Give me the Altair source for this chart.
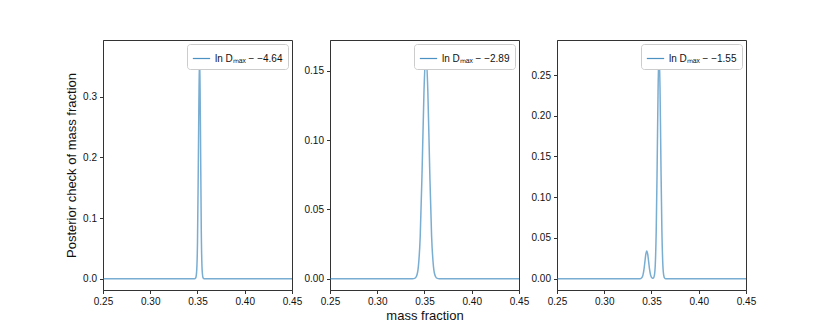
import altair as alt
import pandas as pd

# ---- data ----
x1 = [0.25, 0.347, 0.348, 0.349, 0.350, 0.351, 0.3522, 0.353, 0.354, 0.355, 0.356, 0.357, 0.45]
y1 = [0.0, 0.0, 0.001, 0.010, 0.060, 0.210, 0.375, 0.270, 0.080, 0.012, 0.001, 0.0, 0.0]

x2 = [0.25, 0.3375, 0.3395, 0.3415, 0.3435, 0.3455, 0.3475, 0.3495, 0.3515,
      0.3535, 0.3555, 0.3575, 0.3595, 0.3615, 0.3635, 0.3655, 0.45]
y2 = [0.0, 0.0, 0.0002, 0.0017, 0.0087, 0.031, 0.079, 0.136, 0.164,
      0.136, 0.079, 0.031, 0.0087, 0.0017, 0.0002, 0.0, 0.0]

x3 = [0.25, 0.338, 0.339, 0.340, 0.341, 0.342, 0.343, 0.344, 0.345, 0.346, 0.347,
      0.348, 0.349, 0.350, 0.351, 0.352, 0.353, 0.354, 0.355, 0.356, 0.357, 0.358,
      0.359, 0.360, 0.361, 0.362, 0.363, 0.364, 0.365, 0.45]
y3 = [0.0, 0.0, 0.0004, 0.0015, 0.0046, 0.011, 0.0206, 0.030, 0.034, 0.030, 0.0206,
      0.011, 0.0046, 0.0015, 0.0006, 0.0008, 0.0037, 0.017, 0.059, 0.140, 0.235, 0.279,
      0.235, 0.140, 0.059, 0.017, 0.0037, 0.0005, 0.0, 0.0]

labels = ["ln Dₘₐₓ − −4.64", "ln Dₘₐₓ − −2.89", "ln Dₘₐₓ − −1.55"]
y_domains = [[-0.01875, 0.39375], [-0.0082, 0.1722], [-0.01395, 0.2930]]
y_ticks = [[0.0, 0.1, 0.2, 0.3], [0.0, 0.05, 0.10, 0.15], [0.0, 0.05, 0.10, 0.15, 0.20, 0.25]]
y_formats = [".1f", ".2f", ".2f"]
x_ticks = [0.25, 0.30, 0.35, 0.40, 0.45]

FONT = "Liberation Sans"
BLUE = "#1f77b4"


def panel(xs, ys, label, ydom, yt, yf, ytitle, xtitle):
    df = pd.DataFrame({"x": xs, "y": ys, "series": label})
    yaxis = alt.Axis(values=yt, format=yf, grid=False, tickSize=3.5, labelPadding=3,
                     labelFlush=False, titleFontSize=13, titleFontWeight="normal",
                     titlePadding=4)
    xaxis = alt.Axis(values=x_ticks, format=".2f", grid=False, tickSize=3.5, labelPadding=3,
                     labelFlush=False, titleFontSize=13, titleFontWeight="normal",
                     titlePadding=3)
    return alt.Chart(df).mark_line(strokeWidth=1.5, opacity=0.6, interpolate="monotone").encode(
        x=alt.X("x:Q", scale=alt.Scale(domain=[0.25, 0.45], nice=False, zero=False),
                axis=xaxis, title=xtitle),
        y=alt.Y("y:Q", scale=alt.Scale(domain=ydom, nice=False, zero=False),
                axis=yaxis, title=ytitle),
        color=alt.Color("series:N", scale=alt.Scale(range=[BLUE]),
                        legend=alt.Legend(title=None, orient="top-right", offset=4,
                                          padding=5, fillColor="white", strokeColor="#cccccc",
                                          cornerRadius=3, symbolType="stroke", symbolSize=300,
                                          symbolStrokeWidth=1.2, symbolStrokeColor=BLUE,
                                          symbolOpacity=0.8,
                                          labelFontSize=10, labelFont=FONT, labelColor="#111")),
    ).properties(width=189, height=250)


p1 = panel(x1, y1, labels[0], y_domains[0], y_ticks[0], y_formats[0],
           "Posterior check of mass fraction", None)
p2 = panel(x2, y2, labels[1], y_domains[1], y_ticks[1], y_formats[1], None, "mass fraction")
p3 = panel(x3, y3, labels[2], y_domains[2], y_ticks[2], y_formats[2], None, None)

chart = alt.hconcat(p1, p2, p3, spacing=38, bounds="flush").resolve_scale(
    color="independent", y="independent").resolve_legend(color="independent").properties(
    padding={"left": 57, "top": 31, "right": 5, "bottom": 5}
).configure_view(stroke="#333333", strokeWidth=1).configure_axis(
    labelFont=FONT, titleFont=FONT, labelFontSize=10, labelColor="#111", titleColor="#111",
    domainColor="#333333", tickColor="#333333"
)

chart.save("out.html", embed_options={"renderer": "svg", "actions": False})
